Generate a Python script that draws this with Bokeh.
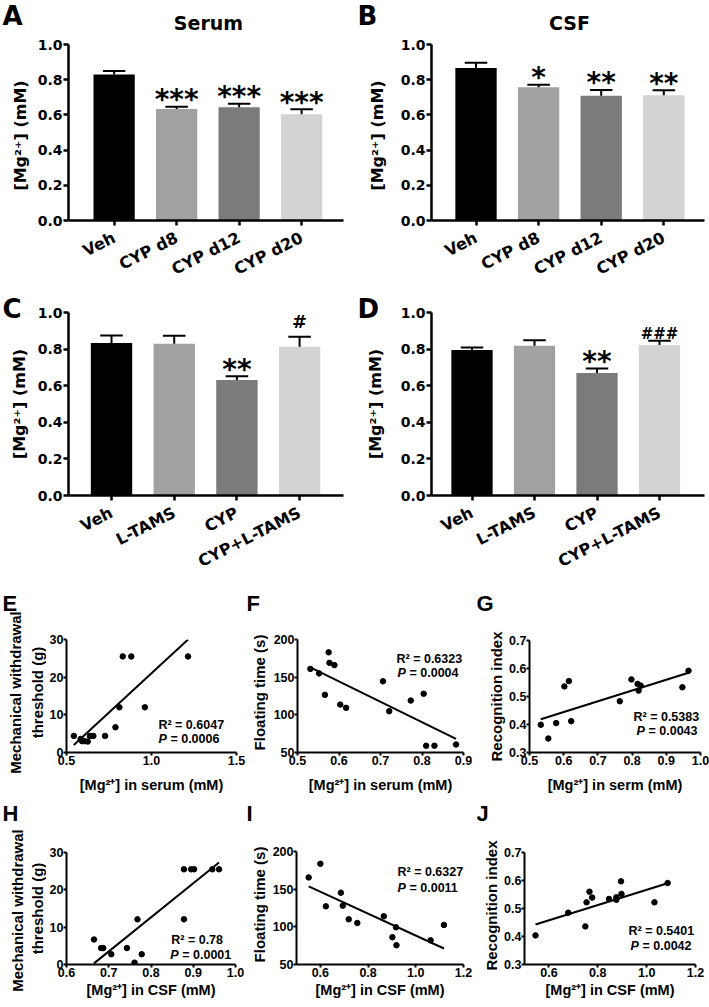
import math
from bokeh.plotting import figure
from bokeh.models import Range1d, FixedTicker, Label, ColumnDataSource, PrintfTickFormatter
from bokeh.layouts import column, row
from bokeh.embed import file_html
from bokeh.resources import INLINE
from bokeh.core.properties import value

# ---------------- data ----------------
groups_time = ["Veh", "CYP d8", "CYP d12", "CYP d20"]
groups_treat = ["Veh", "L-TAMS", "CYP", "CYP+L-TAMS"]
bar_colors = ["#000000", "#a1a1a1", "#7b7b7b", "#d3d3d3"]

serum_mean = [0.830, 0.634, 0.643, 0.604]
serum_sem = [0.020, 0.013, 0.020, 0.028]
serum_stars = ["", "***", "***", "***"]
serum_hash = ["", "", "", ""]

csf_mean = [0.866, 0.757, 0.709, 0.712]
csf_sem = [0.030, 0.014, 0.033, 0.028]
csf_stars = ["", "*", "**", "**"]
csf_hash = ["", "", "", ""]

serum_treat_mean = [0.833, 0.829, 0.631, 0.813]
serum_treat_sem = [0.041, 0.044, 0.021, 0.054]
serum_treat_stars = ["", "", "**", ""]
serum_treat_hash = ["", "", "", "#"]

csf_treat_mean = [0.795, 0.818, 0.670, 0.823]
csf_treat_sem = [0.014, 0.031, 0.024, 0.022]
csf_treat_stars = ["", "", "**", ""]
csf_treat_hash = ["", "", "", "###"]

e_x = [0.543, 0.583, 0.592, 0.606, 0.625, 0.638, 0.658, 0.727, 0.788, 0.811, 0.831, 0.881, 0.961, 1.215]
e_y = [4.4, 3.6, 3.0, 3.0, 2.9, 4.4, 4.4, 4.4, 6.7, 12.0, 25.5, 25.5, 12.0, 25.5]
e_fit_x = [0.543, 1.215]
e_fit_y = [2.0, 30.0]

f_x = [0.531, 0.552, 0.566, 0.575, 0.577, 0.589, 0.603, 0.617, 0.706, 0.721, 0.773, 0.804, 0.810, 0.830, 0.882]
f_y = [161, 155, 126.5, 183, 169, 166, 113.6, 109.3, 144.5, 104.8, 119, 128, 59, 59, 60.6]
f_fit_x = [0.531, 0.882]
f_fit_y = [163.1, 68.2]

g_x = [0.533, 0.555, 0.578, 0.602, 0.615, 0.622, 0.764, 0.798, 0.816, 0.819, 0.825, 0.947, 0.965]
g_y = [0.399, 0.350, 0.405, 0.536, 0.555, 0.412, 0.483, 0.561, 0.545, 0.521, 0.539, 0.533, 0.592]
g_fit_x = [0.533, 0.965]
g_fit_y = [0.419, 0.585]

h_x = [0.665, 0.682, 0.687, 0.706, 0.743, 0.761, 0.768, 0.778, 0.878, 0.878, 0.895, 0.902, 0.945, 0.961]
h_y = [6.7, 4.4, 4.4, 2.75, 4.4, 0.5, 12.1, 2.75, 12.1, 25.5, 25.5, 25.5, 25.5, 25.5]
h_fit_x = [0.665, 0.961]
h_fit_y = [0.3, 27.3]

i_x = [0.551, 0.600, 0.623, 0.686, 0.694, 0.719, 0.755, 0.866, 0.902, 0.917, 0.919, 1.062, 1.118]
i_y = [165.6, 183.7, 127.2, 145.3, 128.1, 110, 105.1, 114, 86.2, 99.4, 75.6, 82.2, 102.5]
i_fit_x = [0.551, 1.118]
i_fit_y = [153.7, 71.2]

j_x = [0.545, 0.679, 0.749, 0.754, 0.766, 0.777, 0.846, 0.876, 0.876, 0.895, 0.897, 1.032, 1.086]
j_y = [0.404, 0.485, 0.436, 0.522, 0.560, 0.539, 0.534, 0.540, 0.531, 0.597, 0.552, 0.522, 0.591]
j_fit_x = [0.545, 1.086]
j_fit_y = [0.443, 0.590]

BAR_FONT = "DejaVu Sans"
SC_FONT = "Liberation Sans"
MG = "[Mg²⁺]"

# ---------------- geometry (page px) ----------------
GA = dict(x0=32, w=322, top=32, bot=290, L=68, R=343, T=44, B=226, xr=(-0.73, 3.67), yr=(0, 1.0))
GB = dict(x0=389, w=320, top=32, bot=290, L=431, R=704, T=44, B=226, xr=(-0.711, 3.65), yr=(0, 1.0))
GC = dict(x0=32, w=322, top=290, bot=585, L=68, R=343, T=312, B=495, xr=(-0.686, 3.70), yr=(0, 1.0))
GD = dict(x0=389, w=320, top=290, bot=585, L=431, R=704, T=312, B=495, xr=(-0.648, 3.72), yr=(0, 1.0))
GE = dict(x0=46, w=199, top=585, bot=800, L=64, R=236, T=639, B=752, xr=(0.5, 1.5), yr=(0, 30))
GF = dict(x0=268, w=207, top=585, bot=800, L=297, R=463, T=639, B=752, xr=(0.5, 0.9), yr=(50, 200))
GG = dict(x0=505, w=204, top=585, bot=800, L=529, R=700, T=640, B=752, xr=(0.5, 1.0), yr=(0.3, 0.7))
GH = dict(x0=46, w=199, top=800, bot=1005, L=64, R=235, T=852, B=964, xr=(0.6, 1.0), yr=(0, 30))
GI = dict(x0=268, w=207, top=800, bot=1005, L=296, R=463, T=851, B=964, xr=(0.5, 1.2), yr=(50, 200))
GJ = dict(x0=500, w=209, top=800, bot=1005, L=524, R=695, T=852, B=964, xr=(0.5, 1.2), yr=(0.3, 0.7))

# text strips (page px): x0, top, w, h
S_HEAD = dict(x0=0, top=0, w=709, h=32)
S_A = dict(x0=0, top=32, w=32, h=258)
S_B = dict(x0=354, top=32, w=35, h=258)
S_C = dict(x0=0, top=290, w=32, h=295)
S_D = dict(x0=354, top=290, w=35, h=295)
S_E = dict(x0=0, top=585, w=46, h=215)
S_F = dict(x0=245, top=585, w=23, h=215)
S_G = dict(x0=475, top=585, w=30, h=215)
S_H = dict(x0=0, top=800, w=46, h=205)
S_I = dict(x0=245, top=800, w=23, h=205)
S_J = dict(x0=475, top=800, w=25, h=205)


def clean(p):
    p.outline_line_color = None
    p.xgrid.visible = False
    p.ygrid.visible = False
    p.background_fill_color = "white"
    p.border_fill_color = "white"


def text_fig(s):
    p = figure(width=s["w"], height=s["h"], x_range=Range1d(0, s["w"]), y_range=Range1d(0, s["h"]),
               output_backend="svg", toolbar_location=None, frame_align=False,
               x_axis_location=None, y_axis_location=None,
               min_border=0, min_border_left=0, min_border_right=0,
               min_border_top=0, min_border_bottom=0)
    clean(p)
    return p


def put_text(p, s, px, py, text, font, size, style="bold", align="left",
             baseline="middle", angle=0.0):
    p.text(x=[px - s["x0"]], y=[s["h"] - (py - s["top"])], text=[text], angle=angle,
           text_align=align, text_baseline=baseline, text_font=value(font),
           text_font_size=f"{size}px", text_font_style=style, text_color="black")


def to_data(g, px, py):
    x = g["xr"][0] + (px - g["L"]) / (g["R"] - g["L"]) * (g["xr"][1] - g["xr"][0])
    y = g["yr"][1] - (py - g["T"]) / (g["B"] - g["T"]) * (g["yr"][1] - g["yr"][0])
    return x, y


def add_label(p, g, px, py, text, font, size, style="bold", x_offset=0):
    x, y = to_data(g, px, py)
    p.add_layout(Label(x=x, y=y, text=text, text_font=font, text_font_size=f"{size}px",
                       text_font_style=style, text_align="left", text_baseline="middle",
                       text_color="black", x_offset=x_offset))


def make_fig(g):
    p = figure(width=g["w"], height=g["bot"] - g["top"],
               x_range=Range1d(*g["xr"]), y_range=Range1d(*g["yr"]),
               output_backend="svg", toolbar_location=None, frame_align=False,
               min_border_left=g["L"] - g["x0"], min_border_right=g["x0"] + g["w"] - g["R"],
               min_border_top=g["T"] - g["top"], min_border_bottom=g["bot"] - g["B"])
    clean(p)
    return p


def style_axes(p, font, xsize, ysize, label_size, lw, tick_out, xstand, ystand, xls):
    for ax, sz, st in ((p.xaxis[0], xsize, xstand), (p.yaxis[0], ysize, ystand)):
        ax.axis_line_width = lw
        ax.axis_line_color = "black"
        ax.major_tick_line_width = lw
        ax.major_tick_line_color = "black"
        ax.major_tick_out = tick_out
        ax.major_tick_in = 0
        ax.minor_tick_line_color = None
        ax.major_label_text_font = font
        ax.major_label_text_font_style = "bold"
        ax.major_label_text_font_size = f"{sz}px"
        ax.major_label_text_color = "black"
        ax.major_label_standoff = st
        ax.axis_label_text_font = font
        ax.axis_label_text_font_style = "bold"
        ax.axis_label_text_font_size = f"{label_size}px"
        ax.axis_label_text_color = "black"
        ax.axis_label_standoff = xls


def bar_panel(g, groups, means, sems, stars, hashes, hash_size, hash_off):
    p = make_fig(g)
    idx = list(range(len(groups)))
    tops = [m + s for m, s in zip(means, sems)]
    src = ColumnDataSource(dict(x=idx, mean=means, top=tops, color=bar_colors,
                                capl=[i - 0.18 for i in idx], capr=[i + 0.18 for i in idx],
                                stars=stars, hashes=hashes))
    p.vbar(x="x", top="mean", bottom=0, width=0.66, fill_color="color", line_color=None, source=src)
    p.segment(x0="x", y0="mean", x1="x", y1="top", line_width=2, line_color="black", source=src)
    p.segment(x0="capl", y0="top", x1="capr", y1="top", line_width=2, line_color="black", source=src)
    p.text(x="x", y="top", text="stars", text_align="center", text_baseline="alphabetic",
           y_offset=-7, text_font=value(BAR_FONT), text_font_size="28px",
           text_font_style="bold", text_color="black", source=src)
    p.text(x="x", y="top", text="hashes", text_align="center", text_baseline="alphabetic",
           y_offset=hash_off, text_font=value(BAR_FONT), text_font_size=f"{hash_size}px",
           text_font_style="bold", text_color="black", source=src)
    style_axes(p, BAR_FONT, 16, 14, 16, 2.5, 5, 11, 1, 5)
    p.xaxis.ticker = FixedTicker(ticks=idx)
    p.xaxis.major_label_overrides = {i: gname for i, gname in enumerate(groups)}
    p.xaxis.major_label_orientation = 0.47
    p.yaxis.ticker = FixedTicker(ticks=[0.0, 0.2, 0.4, 0.6, 0.8, 1.0])
    p.yaxis.formatter = PrintfTickFormatter(format="%.1f")
    return p


def scatter_panel(g, xs, ys, fx, fy, xticks, yticks, xfmt, yfmt, xlabel,
                  r2, pval, r2pos, ppos, xls):
    p = make_fig(g)
    p.scatter(xs, ys, size=5.5, color="black")
    p.line(fx, fy, line_width=2, line_color="black")
    style_axes(p, SC_FONT, 12.5, 12.5, 14.5, 2, 3, 0, 0, xls)
    p.xaxis.ticker = FixedTicker(ticks=xticks)
    p.yaxis.ticker = FixedTicker(ticks=yticks)
    p.xaxis.formatter = PrintfTickFormatter(format=xfmt)
    p.yaxis.formatter = PrintfTickFormatter(format=yfmt)
    p.xaxis.axis_label = xlabel
    add_label(p, g, r2pos[0], r2pos[1], r2, SC_FONT, 12.5)
    add_label(p, g, ppos[0], ppos[1], "P", SC_FONT, 12.5, style="bold italic")
    add_label(p, g, ppos[0], ppos[1], "= " + pval, SC_FONT, 12.5, x_offset=12)
    return p


# ---------------- bar panels ----------------
mA = bar_panel(GA, groups_time, serum_mean, serum_sem, serum_stars, serum_hash, 18, 0)
mB = bar_panel(GB, groups_time, csf_mean, csf_sem, csf_stars, csf_hash, 18, 0)
mC = bar_panel(GC, groups_treat, serum_treat_mean, serum_treat_sem, serum_treat_stars,
               serum_treat_hash, 18, -15)
mD = bar_panel(GD, groups_treat, csf_treat_mean, csf_treat_sem, csf_treat_stars,
               csf_treat_hash, 15, -7)

head = text_fig(S_HEAD)
put_text(head, S_HEAD, 2, 15.5, "A", BAR_FONT, 26)
put_text(head, S_HEAD, 208, 22, "Serum", BAR_FONT, 19, align="center")
put_text(head, S_HEAD, 357, 15.5, "B", BAR_FONT, 26)
put_text(head, S_HEAD, 569, 22, "CSF", BAR_FONT, 19, align="center")

YLAB = MG + " (mM)"
R90 = math.pi / 2
sA = text_fig(S_A)
put_text(sA, S_A, 19.5, 135, YLAB, BAR_FONT, 16, align="center", angle=R90)
sB = text_fig(S_B)
put_text(sB, S_B, 376.5, 135, YLAB, BAR_FONT, 16, align="center", angle=R90)
sC = text_fig(S_C)
put_text(sC, S_C, 2, 308.3, "C", BAR_FONT, 26)
put_text(sC, S_C, 19, 403.5, YLAB, BAR_FONT, 16, align="center", angle=R90)
sD = text_fig(S_D)
put_text(sD, S_D, 357, 308.3, "D", BAR_FONT, 26)
put_text(sD, S_D, 375, 403.5, YLAB, BAR_FONT, 16, align="center", angle=R90)

# ---------------- scatter panels ----------------
mE = scatter_panel(GE, e_x, e_y, e_fit_x, e_fit_y, [0.5, 1.0, 1.5], [0, 10, 20, 30], "%.1f", "%d",
                   MG + " in serum (mM)", "R² =  0.6047", "0.0006", (157, 724), (157, 738), 9)
mF = scatter_panel(GF, f_x, f_y, f_fit_x, f_fit_y, [0.5, 0.6, 0.7, 0.8, 0.9], [50, 100, 150, 200],
                   "%.1f", "%d", MG + " in serum (mM)", "R² = 0.6323", "0.0004",
                   (396, 658), (397, 672), 9)
mG = scatter_panel(GG, g_x, g_y, g_fit_x, g_fit_y, [0.5, 0.6, 0.7, 0.8, 0.9, 1.0],
                   [0.3, 0.4, 0.5, 0.6, 0.7], "%.1f", "%.1f", MG + " in serm (mM)",
                   "R² = 0.5383", "0.0043", (633, 716), (636, 730), 9)
mH = scatter_panel(GH, h_x, h_y, h_fit_x, h_fit_y, [0.6, 0.7, 0.8, 0.9, 1.0], [0, 10, 20, 30],
                   "%.1f", "%d", MG + " in CSF (mM)", "R² =  0.78", "0.0001",
                   (170, 939), (169, 954), 2)
mI = scatter_panel(GI, i_x, i_y, i_fit_x, i_fit_y, [0.6, 0.8, 1.0, 1.2], [50, 100, 150, 200],
                   "%.1f", "%d", MG + " in CSF (mM)", "R² = 0.6327", "0.0011",
                   (397, 871), (397, 887), 2)
mJ = scatter_panel(GJ, j_x, j_y, j_fit_x, j_fit_y, [0.6, 0.8, 1.0, 1.2], [0.3, 0.4, 0.5, 0.6, 0.7],
                   "%.1f", "%.1f", MG + " in CSF (mM)", "R² = 0.5401", "0.0042",
                   (628, 930), (630, 945), 2)

sE = text_fig(S_E)
put_text(sE, S_E, 2, 602.5, "E", SC_FONT, 22)
put_text(sE, S_E, 15, 692, "Mechanical withdrawal", SC_FONT, 15, align="center", angle=R90)
put_text(sE, S_E, 36.5, 692, "threshold (g)", SC_FONT, 15, align="center", angle=R90)
sF = text_fig(S_F)
put_text(sF, S_F, 246, 602.5, "F", SC_FONT, 22)
put_text(sF, S_F, 259, 692, "Floating time (s)", SC_FONT, 15, align="center", angle=R90)
sG = text_fig(S_G)
put_text(sG, S_G, 476, 602.5, "G", SC_FONT, 22)
put_text(sG, S_G, 496, 696, "Recognition index", SC_FONT, 15, align="center", angle=R90)
sH = text_fig(S_H)
put_text(sH, S_H, 2, 812.5, "H", SC_FONT, 22)
put_text(sH, S_H, 17, 910, "Mechanical withdrawal", SC_FONT, 15, align="center", angle=R90)
put_text(sH, S_H, 36.5, 908, "threshold (g)", SC_FONT, 15, align="center", angle=R90)
sI = text_fig(S_I)
put_text(sI, S_I, 246, 812.5, "I", SC_FONT, 22)
put_text(sI, S_I, 259, 904, "Floating time (s)", SC_FONT, 15, align="center", angle=R90)
sJ = text_fig(S_J)
put_text(sJ, S_J, 476, 812.5, "J", SC_FONT, 22)
put_text(sJ, S_J, 490.5, 905, "Recognition index", SC_FONT, 15, align="center", angle=R90)

layout = column(
    column(head, row(sA, mA, sB, mB)),
    row(sC, mC, sD, mD),
    row(sE, mE, sF, mF, sG, mG),
    row(sH, mH, sI, mI, sJ, mJ),
)

with open("out.html", "w") as f:
    f.write(file_html(layout, INLINE))
